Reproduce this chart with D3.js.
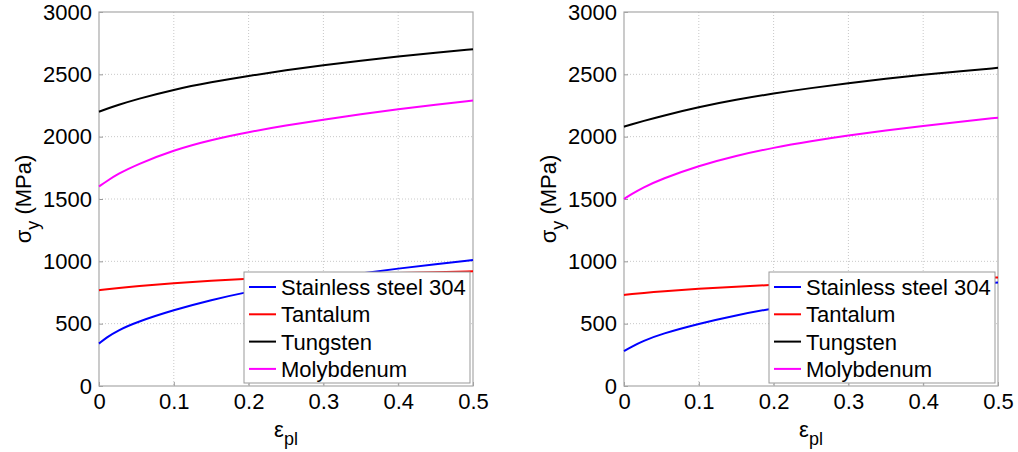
<!DOCTYPE html>
<html><head><meta charset="utf-8">
<script src="https://cdn.jsdelivr.net/npm/d3@7"></script>
<style>body{margin:0;background:#fff}svg text{font-family:"Liberation Sans",Arial,sans-serif;fill:#000}</style>
</head><body>
<svg id="c" width="1018" height="452"></svg>
<script>
const strain = [0, 0.01, 0.025, 0.05, 0.1, 0.15, 0.2, 0.25, 0.3, 0.35, 0.4, 0.45, 0.5];
const seriesNames = ["Stainless steel 304", "Tantalum", "Tungsten", "Molybdenum"];
const seriesColors = ["#0000ff", "#ff0000", "#000000", "#ff00ff"];
const xTicks = [0, 0.1, 0.2, 0.3, 0.4, 0.5];
const yTicks = [0, 500, 1000, 1500, 2000, 2500, 3000];
// left panel
const leftSS304 = [340, 389, 445, 512, 610, 690, 757, 812, 862, 904, 942, 977, 1010];
const leftTa    = [768, 775, 785, 800, 824, 844, 860, 874, 886, 897, 906, 913, 920];
const leftW     = [2200, 2222, 2253, 2300, 2378, 2437, 2488, 2533, 2573, 2609, 2643, 2673, 2702];
const leftMo    = [1600, 1642, 1700, 1775, 1893, 1975, 2037, 2090, 2137, 2180, 2220, 2256, 2290];
// right panel
const rightSS304 = [280, 315, 360, 418, 500, 568, 624, 671, 713, 750, 782, 808, 830];
const rightTa    = [730, 737, 746, 759, 780, 797, 812, 825, 837, 847, 856, 864, 871];
const rightW     = [2080, 2098, 2124, 2165, 2238, 2297, 2347, 2390, 2429, 2465, 2497, 2526, 2552];
const rightMo    = [1500, 1538, 1590, 1660, 1767, 1848, 1912, 1964, 2010, 2050, 2087, 2121, 2152];

const svg = d3.select("#c");
const plotTop = 12, plotBottom = 386;

function panel(x0, x1, series, labelX) {
  const x = d3.scaleLinear().domain([0, 0.5]).range([x0, x1]);
  const y = d3.scaleLinear().domain([0, 3000]).range([plotBottom, plotTop]);
  const g = svg.append("g");
  // grid
  g.selectAll(".gx").data(xTicks.slice(1, -1)).join("line")
    .attr("x1", d => x(d)).attr("x2", d => x(d)).attr("y1", plotTop).attr("y2", plotBottom)
    .attr("stroke", "#c8c8c8").attr("stroke-width", 1).attr("stroke-dasharray", "1,2");
  g.selectAll(".gy").data(yTicks.slice(1, -1)).join("line")
    .attr("y1", d => y(d)).attr("y2", d => y(d)).attr("x1", x0).attr("x2", x1)
    .attr("stroke", "#c8c8c8").attr("stroke-width", 1).attr("stroke-dasharray", "1,2");
  // axes with inward ticks
  const ax = g.append("g").attr("transform", `translate(0,${plotBottom})`)
    .call(d3.axisBottom(x).tickValues(xTicks).tickSize(-4).tickPadding(10).tickFormat(d => d === 0 ? "0" : d3.format(".1f")(d)));
  const ay = g.append("g").attr("transform", `translate(${x0},0)`)
    .call(d3.axisLeft(y).tickValues(yTicks).tickSize(-4).tickPadding(7).tickFormat(d3.format("d")));
  [ax, ay].forEach(a => {
    a.select(".domain").remove();
    a.selectAll(".tick line").attr("stroke", "#999");
    a.selectAll("text").style("font-size", "22px").attr("fill", "#000");
  });
  ax.selectAll("text").attr("dy", "0.71em").attr("y", 7);
  // box
  g.append("rect").attr("x", x0).attr("y", plotTop).attr("width", x1 - x0).attr("height", plotBottom - plotTop)
    .attr("fill", "none").attr("stroke", "#a8a8a8").attr("stroke-width", 1.2);
  // lines
  const line = d3.line().x((d, i) => x(strain[i])).y(d => y(d)).curve(d3.curveBasis);
  series.forEach((s, k) => {
    g.append("path").attr("d", line(s)).attr("fill", "none")
      .attr("stroke", seriesColors[k]).attr("stroke-width", 2);
  });
  // legend
  const lw = 226, lh = 111;
  const lx = x1 - 3 - lw, ly = 272;
  const lg = g.append("g");
  lg.append("rect").attr("x", lx).attr("y", ly).attr("width", lw).attr("height", lh)
    .attr("fill", "#fff").attr("stroke", "#999").attr("stroke-width", 1);
  seriesNames.forEach((n, k) => {
    const cy = ly + 15 + k * 27.3;
    lg.append("line").attr("x1", lx + 5).attr("x2", lx + 32).attr("y1", cy).attr("y2", cy)
      .attr("stroke", seriesColors[k]).attr("stroke-width", 2);
    lg.append("text").attr("x", lx + 37).attr("y", cy).attr("dy", "0.36em")
      .style("font-size", "22px").text(n);
  });
  // x label
  const xl = g.append("text").attr("x", (x0 + x1) / 2).attr("y", 437).attr("text-anchor", "middle").style("font-size", "22px");
  xl.append("tspan").text("ε");
  xl.append("tspan").attr("dy", 8).style("font-size", "18px").text("pl");
  // y label
  const yl = g.append("text").attr("transform", `translate(${labelX},${(plotTop + plotBottom) / 2}) rotate(-90)`)
    .attr("text-anchor", "middle").style("font-size", "22px");
  yl.append("tspan").text("σ");
  yl.append("tspan").attr("dy", 8).style("font-size", "18px").text("y");
  yl.append("tspan").attr("dy", -8).text(" (MPa)");
}

panel(99, 473, [leftSS304, leftTa, leftW, leftMo], 31);
panel(624, 998, [rightSS304, rightTa, rightW, rightMo], 556);
</script>
</body></html>
